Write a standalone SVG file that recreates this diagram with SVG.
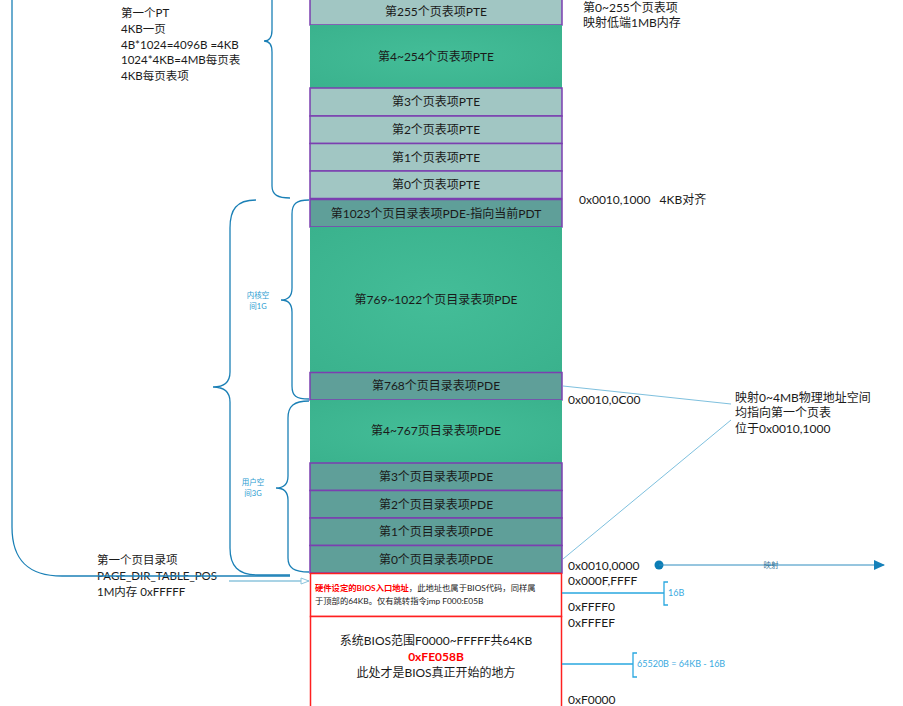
<svg xmlns="http://www.w3.org/2000/svg" width="903" height="706" viewBox="0 0 903 706">
<defs>
<radialGradient id="g" cx="50%" cy="50%" r="70%">
<stop offset="0" stop-color="#44BD98"/>
<stop offset="1" stop-color="#3AB28D"/>
</radialGradient>
<marker id="open" markerWidth="10" markerHeight="8" refX="9" refY="4" orient="auto" markerUnits="userSpaceOnUse">
<path d="M1,1 L9,4 L1,7 Z" fill="#fff" stroke="#8CC4DC" stroke-width="1"/>
</marker>
<marker id="solid" markerWidth="12" markerHeight="12" refX="10" refY="6" orient="auto" markerUnits="userSpaceOnUse">
<path d="M0,1 L11,6 L0,11 Z" fill="#1681BA"/>
</marker>
</defs>
<style>
text{font-family:Lato,"Noto Sans CJK SC",sans-serif;fill:#1a1a1a}
.r{font-size:12px;text-anchor:middle;dominant-baseline:central}
.t{font-size:12px}
.s{font-size:11.5px}
.pte{fill:#A1C6C3;stroke:#7B3FB0;stroke-width:1.5}
.pde{fill:#5F9F99;stroke:#7B3FB0;stroke-width:1.5}
.grn{fill:url(#g)}
.br{fill:none;stroke:#1B80B6;stroke-width:1.3}
.lab{font-size:7.5px;fill:#2A9BD0;text-anchor:middle}
.thin{stroke:#7EC0DE;stroke-width:1;fill:none}
.blue{stroke:#2AA8E0;stroke-width:1.3;fill:none}
.bl{font-size:9px;fill:#3AAAE0}
</style>
<rect width="903" height="706" fill="#fff"/>

<g id="pte255"><rect class="pte" x="310" y="-5" width="252" height="30"/><text class="r" x="436" y="11">第255个页表项PTE</text></g>
<g id="pte4_254"><rect class="grn" x="310" y="25" width="252" height="63"/><text class="r" x="436" y="56">第4~254个页表项PTE</text></g>
<g id="pte3"><rect class="pte" x="310" y="88" width="252" height="28"/><text class="r" x="436" y="101">第3个页表项PTE</text></g>
<g id="pte2"><rect class="pte" x="310" y="116" width="252" height="27.5"/><text class="r" x="436" y="129">第2个页表项PTE</text></g>
<g id="pte1"><rect class="pte" x="310" y="143.5" width="252" height="27.5"/><text class="r" x="436" y="157">第1个页表项PTE</text></g>
<g id="pte0"><rect class="pte" x="310" y="171" width="252" height="27.5"/><text class="r" x="436" y="184">第0个页表项PTE</text></g>

<g id="pde1023"><rect class="pde" x="310" y="199.5" width="252" height="27.5"/><text class="r" x="436" y="213">第1023个页目录表项PDE-指向当前PDT</text></g>
<g id="pde769_1022"><rect class="grn" x="310" y="227" width="252" height="145"/><text class="r" x="436" y="299">第769~1022个页目录表项PDE</text></g>
<g id="pde768"><rect class="pde" x="310" y="372.5" width="252" height="27.5"/><text class="r" x="436" y="385">第768个页目录表项PDE</text></g>
<g id="pde4_767"><rect class="grn" x="310" y="400" width="252" height="63"/><text class="r" x="436" y="430">第4~767页目录表项PDE</text></g>
<g id="pde3"><rect class="pde" x="310" y="463" width="252" height="27.5"/><text class="r" x="436" y="476">第3个页目录表项PDE</text></g>
<g id="pde2"><rect class="pde" x="310" y="490.5" width="252" height="27.5"/><text class="r" x="436" y="504">第2个页目录表项PDE</text></g>
<g id="pde1"><rect class="pde" x="310" y="518" width="252" height="27.5"/><text class="r" x="436" y="531">第1个页目录表项PDE</text></g>
<g id="pde0"><rect class="pde" x="310" y="545.5" width="252" height="27.5"/><text class="r" x="436" y="559">第0个页目录表项PDE</text></g>

<g id="bios_entry"><rect x="310.5" y="573.5" width="251" height="43" fill="#fff" stroke="#FF2020" stroke-width="1.5"/>
<text x="315" y="591" style="font-size:8.3px"><tspan fill="#FF0000" font-weight="bold">硬件设定的BIOS入口地址</tspan><tspan>，此地址也属于BIOS代码，同样属</tspan></text>
<text x="315" y="604" style="font-size:8.3px">于顶部的64KB。仅有跳转指令jmp F000:E05B</text></g>
<g id="bios"><rect x="310.5" y="616.5" width="251" height="100" fill="#fff" stroke="#FF2020" stroke-width="1.5"/>
<text class="r" x="436" y="640">系统BIOS范围F0000~FFFFF共64KB</text>
<text class="r" x="436" y="656" style="fill:#FF0000;font-weight:bold">0xFE058B</text>
<text class="r" x="436" y="672">此处才是BIOS真正开始的地方</text></g>

<g id="notes">
<text class="s" x="121" y="17">第一个PT</text>
<text class="s" x="121" y="33">4KB一页</text>
<text class="s" x="121" y="49">4B*1024=4096B =4KB</text>
<text class="s" x="121" y="64">1024*4KB=4MB每页表</text>
<text class="s" x="121" y="80">4KB每页表项</text>
<text class="t" x="583" y="12">第0~255个页表项</text>
<text class="t" x="583" y="27">映射低端1MB内存</text>
<text class="t" x="579" y="204" xml:space="preserve">0x0010,1000   4KB对齐</text>
<text class="t" x="568" y="404">0x0010,0C00</text>
<text class="t" x="735" y="402">映射0~4MB物理地址空间</text>
<text class="t" x="735" y="417">均指向第一个页表</text>
<text class="t" x="735" y="433">位于0x0010,1000</text>
<text class="t" x="568" y="570">0x0010,0000</text>
<text class="t" x="568" y="585">0x000F,FFFF</text>
<text class="t" x="568" y="611">0xFFFF0</text>
<text class="t" x="568" y="627">0xFFFEF</text>
<text class="t" x="568" y="704">0xF0000</text>
<text class="s" x="97" y="564">第一个页目录项</text>
<text class="s" x="97" y="580">PAGE_DIR_TABLE_POS</text>
<text class="s" x="97" y="596">1M内存 0xFFFFF</text>
<text class="lab" x="258" y="298">内核空</text>
<text class="lab" x="258" y="309">间1G</text>
<text class="lab" x="253" y="485">用户空</text>
<text class="lab" x="253" y="496">间3G</text>
<text class="bl" x="668" y="596">16B</text>
<text class="bl" x="637" y="667">65520B = 64KB - 16B</text>
</g>

<g id="connectors">
<path class="br" d="M12,-10 L12,527 C12,560 28,576 62,576 L290,576"/>
<path class="br" d="M272,-20 L272,30 C272,37 269,41 264,41 C269,41 272,45 272,52 L272,186 C272,195 278,198 290,198"/>
<path class="br" d="M256,200 C236,200 230,210 230,228 L230,372 C230,382 224,387 213,387 C224,387 230,392 230,402 L230,548 C230,566 238,575 258,575 L290,575"/>
<path class="br" d="M309,200 C296,200 292,204 292,214 L292,288 C292,296 288,300 281,300 C288,300 292,304 292,312 L292,386 C292,396 296,399 309,399"/>
<path class="br" d="M309,401 C294,401 288,406 288,418 L288,476 C288,484 284,488 276,488 C284,488 288,492 288,500 L288,558 C288,568 294,572 309,572"/>
<line x1="229" y1="581" x2="309" y2="581" stroke="#8CC4DC" stroke-width="1.3" marker-end="url(#open)"/>
<line class="thin" x1="563" y1="386" x2="731" y2="404"/>
<line class="thin" x1="563" y1="559" x2="731" y2="420"/>
<circle cx="659" cy="565" r="4.5" fill="#0B7DB5"/>
<line x1="659" y1="565" x2="884" y2="565" stroke="#2F8CBF" stroke-width="1" marker-end="url(#solid)"/>
<text x="771" y="568" style="font-size:7.5px;fill:#2F6F95;text-anchor:middle">映射</text>
<path class="blue" d="M562,593 L664,593 M668,582 L664,582 L664,605 L668,605"/>
<path class="blue" d="M562,664 L633,664 M637,653 L633,653 L633,677 L637,677"/>
</g>
</svg>
